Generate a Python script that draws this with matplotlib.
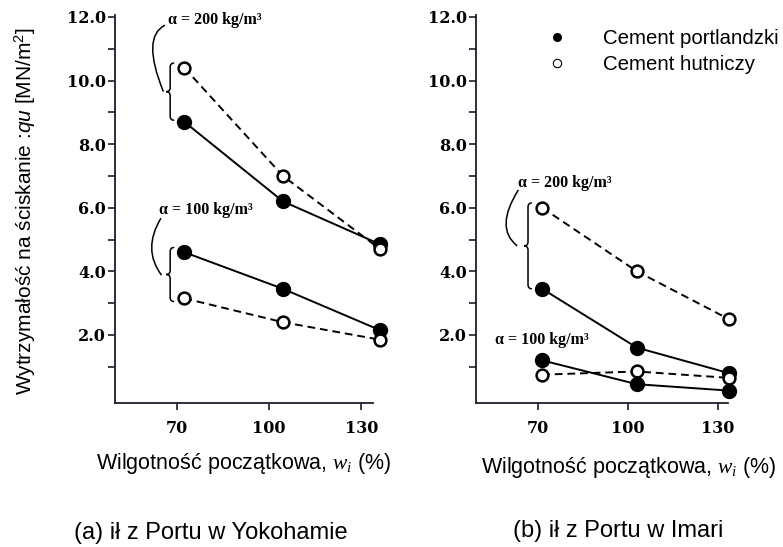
import matplotlib
matplotlib.use('Agg')
import matplotlib.pyplot as plt
from matplotlib.path import Path
from matplotlib.patches import PathPatch
from matplotlib.lines import Line2D

plt.rcParams['font.family'] = 'Liberation Sans'
plt.rcParams['mathtext.fontset'] = 'custom'
plt.rcParams['mathtext.rm'] = 'Liberation Sans'
plt.rcParams['mathtext.it'] = 'Liberation Serif:italic'
plt.rcParams['mathtext.sf'] = 'Liberation Sans:italic'

# wilgotnosc poczatkowa w_i (%)
w_yoko = [72.5, 104.5, 136.0]
w_imari = [71.5, 103.0, 133.5]

# wytrzymalosc qu [MN/m2] - Yokohama
yoko_port_200 = [8.7, 6.2, 4.85]
yoko_hut_200 = [10.4, 7.0, 4.7]
yoko_port_100 = [4.6, 3.45, 2.15]
yoko_hut_100 = [3.15, 2.4, 1.85]

# wytrzymalosc qu [MN/m2] - Imari
imari_port_200 = [3.45, 1.6, 0.8]
imari_hut_200 = [6.0, 4.0, 2.5]
imari_port_100 = [1.2, 0.45, 0.25]
imari_hut_100 = [0.75, 0.85, 0.65]

yticks = [2, 4, 6, 8, 10, 12]
yminor = [1, 3, 5, 7, 9, 11]
xticks = [70, 100, 130]

SPINE = '#1c1c2c'
CYFRY = dict(family='DejaVu Serif', weight='bold')

fig = plt.figure(figsize=(7.83, 5.47), dpi=100)
ax1 = fig.add_axes([0.1469, 0.2633, 0.3423, 0.7087])
ax2 = fig.add_axes([0.6079, 0.2633, 0.3284, 0.7087])


def seria(ax, x, y, pelny):
    if pelny:
        ax.plot(x, y, '-', color='k', lw=1.4, marker='o', ms=10,
                mfc='k', mec='k', clip_on=False, zorder=3)
    else:
        ax.plot(x, y, '--', color='k', lw=1.4, dashes=(4, 2.5), marker='o',
                ms=8.5, mfc='white', mec='k', mew=1.8, clip_on=False, zorder=4)


def klamra(ax, x, y0, y1, dx=1.3, h=0.13):
    ym = (y0 + y1) / 2
    verts = [(x + dx, y1), (x, y1), (x, y1 - h),
             (x, ym + h), (x, ym), (x - dx, ym),
             (x, ym), (x, ym - h),
             (x, y0 + h), (x, y0), (x + dx, y0)]
    codes = [Path.MOVETO, Path.CURVE3, Path.CURVE3,
             Path.LINETO, Path.CURVE3, Path.CURVE3,
             Path.CURVE3, Path.CURVE3,
             Path.LINETO, Path.CURVE3, Path.CURVE3]
    ax.add_patch(PathPatch(Path(verts, codes), fill=False, lw=1.1,
                           color='k', clip_on=False))


def luk(ax, p0, c, p1):
    path = Path([p0, c, p1], [Path.MOVETO, Path.CURVE3, Path.CURVE3])
    ax.add_patch(PathPatch(path, fill=False, lw=1.1, color='k', clip_on=False))


def napis(ax, x, y, s):
    ax.text(x, y, s, ha='center', va='center', fontsize=11.5,
            family='Liberation Serif', weight='bold')


def osie(ax, xmin, xmax, xend, xlab_x, xlab_y):
    ax.set_xlim(xmin, xmax)
    ax.set_ylim(-0.14, 12.05)
    ax.spines['top'].set_visible(False)
    ax.spines['right'].set_visible(False)
    for s in ('left', 'bottom'):
        ax.spines[s].set_color(SPINE)
        ax.spines[s].set_linewidth(1.3)
    ax.spines['bottom'].set_bounds(xmin, xend)
    ax.set_yticks(yticks)
    ax.set_yticklabels(['%.1f' % v for v in yticks], **CYFRY)
    ax.set_yticks(yminor, minor=True)
    ax.set_xticks(xticks)
    ax.set_xticklabels([str(v) for v in xticks], **CYFRY)
    ax.tick_params(axis='both', which='major', direction='out', length=5,
                   width=1.2, color=SPINE, labelsize=11.5)
    ax.tick_params(axis='y', which='minor', direction='out', length=5,
                   width=1.2, color=SPINE)
    ax.tick_params(axis='y', pad=1.5)
    ax.tick_params(axis='x', pad=7)
    ax.set_xlabel(r'Wilgotność początkowa, $w_i$ (%)', fontsize=15.5)
    ax.xaxis.set_label_coords(xlab_x, xlab_y)


# (a) Yokohama
osie(ax1, 50, 137, 133.6, 0.48, -0.125)
seria(ax1, w_yoko, yoko_hut_200, False)
seria(ax1, w_yoko, yoko_port_200, True)
seria(ax1, w_yoko, yoko_hut_100, False)
seria(ax1, w_yoko, yoko_port_100, True)

xk = w_yoko[0] - 4.6
klamra(ax1, xk, min(yoko_port_200[0], yoko_hut_200[0]) + 0.05,
       max(yoko_port_200[0], yoko_hut_200[0]) + 0.15)
klamra(ax1, xk, min(yoko_port_100[0], yoko_hut_100[0]) - 0.1,
       max(yoko_port_100[0], yoko_hut_100[0]) + 0.15)
luk(ax1, (66.2, 11.74), (58.5, 11.37), (65.7, 9.65))
luk(ax1, (64.9, 5.67), (58.8, 4.69), (65.1, 3.88))
napis(ax1, 82.5, 11.9, 'α = 200 kg/m³')
napis(ax1, 79.5, 5.93, 'α = 100 kg/m³')

# (b) Imari
osie(ax2, 49.5, 135, 133.3, 0.595, -0.135)
seria(ax2, w_imari, imari_hut_200, False)
seria(ax2, w_imari, imari_port_200, True)
seria(ax2, w_imari, imari_hut_100, False)
seria(ax2, w_imari, imari_port_100, True)

klamra(ax2, w_imari[0] - 4.7, min(imari_port_200[0], imari_hut_200[0]),
       max(imari_port_200[0], imari_hut_200[0]) + 0.15)
luk(ax2, (63.6, 6.56), (55.6, 5.36), (63.2, 4.8))
napis(ax2, 79.2, 6.78, 'α = 200 kg/m³')
napis(ax2, 71.4, 1.84, 'α = 100 kg/m³')

uchwyty = [Line2D([], [], ls='none', marker='o', ms=5.5, mfc='k', mec='k'),
           Line2D([], [], ls='none', marker='o', ms=6, mfc='white', mec='k', mew=0.8)]
fig.legend(uchwyty, ['Cement portlandzki', 'Cement hutniczy'],
           loc='upper left', bbox_to_anchor=(547 / 783, 1 - 29 / 547),
           frameon=False, fontsize=14.7, handlelength=1.0, handletextpad=1.75,
           borderpad=0, borderaxespad=0, labelspacing=0.35)

fig.text(25 / 783, 1 - 211 / 547,
         r'Wytrzymałość na ściskanie :$\mathsf{qu}$ [MN/m$^2$]',
         rotation=90, ha='center', va='center', fontsize=15)

fig.text(211 / 783, 1 - 533 / 547, '(a) ił z Portu w Yokohamie',
         ha='center', va='center', fontsize=17)
fig.text(618 / 783, 1 - 531 / 547, '(b) ił z Portu w Imari',
         ha='center', va='center', fontsize=17)

fig.savefig('out.png', dpi=100)
